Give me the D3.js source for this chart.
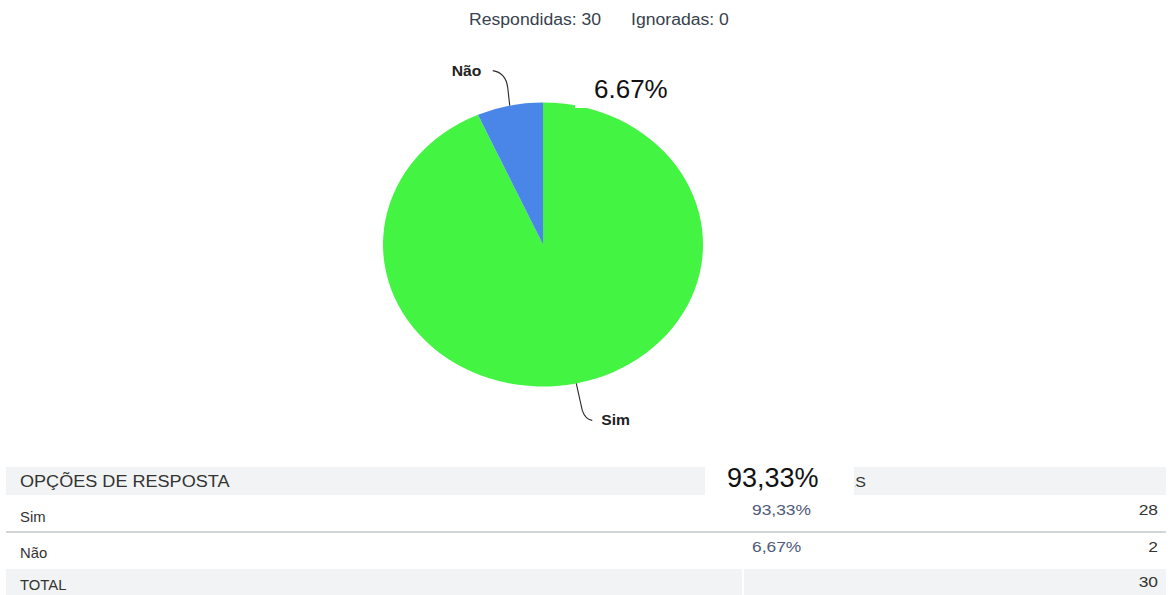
<!DOCTYPE html>
<html>
<head>
<meta charset="utf-8">
<script src="https://cdn.jsdelivr.net/npm/d3@7/dist/d3.min.js"></script>
<style>
  html, body { margin: 0; padding: 0; background: #ffffff; }
  svg { display: block; font-family: "Liberation Sans", Arial, sans-serif; }
</style>
</head>
<body>
<svg id="chart" width="1170" height="595"></svg>
<script>
// Survey question results: answer options and respondent counts
const categories = ["Sim", "Não"];
const counts = [28, 2];
const percentLabels = ["93,33%", "6,67%"];
const sliceColors = ["#43f443", "#4a86e8"];

// Response summary
const answered = 30;
const skipped = 0;

// Large callout labels overlaid on the chart
const calloutLabels = ["93,33%", "6.67%"];

// Table header and totals row
const headerLabels = ["OPÇÕES DE RESPOSTA", "RESPOSTAS"];
const totalLabel = "TOTAL";

const svg = d3.select("#chart");
const textStretch = 1.13;

// Helper: text drawn with a slight horizontal stretch
function addText(parent, x, y, str, opts) {
  const o = Object.assign({ size: 14, weight: "normal", fill: "#333", anchor: "start", sx: textStretch }, opts || {});
  const g = parent.append("g").attr("transform", `translate(${x},${y}) scale(${o.sx},1)`);
  g.append("text")
    .attr("x", 0).attr("y", 0)
    .attr("text-anchor", o.anchor)
    .attr("font-size", o.size)
    .attr("font-weight", o.weight)
    .attr("fill", o.fill)
    .text(str);
  return g;
}

// ---- Summary line ----
addText(svg, 469, 25, `Respondidas: ${answered}`, { size: 15.6, fill: "#37424e" });
addText(svg, 631, 25, `Ignoradas: ${skipped}`, { size: 15.6, fill: "#37424e" });

// ---- Pie (drawn slightly wider than tall) ----
const cx = 543, cy = 244.5, ry = 142, rx = 160;
const pie = d3.pie().sort(null).value(d => d.value);
const pieData = pie(categories.map((c, i) => ({ name: c, value: counts[i], color: sliceColors[i] })));
const arc = d3.arc().innerRadius(0).outerRadius(ry);

const pieG = svg.append("g").attr("transform", `translate(${cx},${cy}) scale(${rx / ry},1)`);
pieG.selectAll("path.slice")
  .data(pieData)
  .join("path")
  .attr("class", "slice")
  .attr("d", arc)
  .attr("fill", d => d.data.color);

// ---- Leader lines and slice labels ----
function outerPoint(d) {
  const a = (d.startAngle + d.endAngle) / 2;
  return [cx + rx * Math.sin(a), cy - ry * Math.cos(a)];
}
const leader = svg.append("g").attr("fill", "none").attr("stroke", "#2a2a2a").attr("stroke-width", 1.1);

pieData.forEach(d => {
  const [px, py] = outerPoint(d);
  const p = d3.path();
  if (py < cy) {
    // label above-left of the slice
    p.moveTo(px, py);
    p.lineTo(px - 2, py - 18);
    p.quadraticCurveTo(px - 4, py - 33, px - 17, py - 35);
    leader.append("path").attr("d", p.toString());
    addText(svg, px - 58, py - 30, d.data.name, { size: 14, weight: "bold", fill: "#222", sx: 1.12 });
  } else {
    // label below-right of the slice
    p.moveTo(px, py);
    p.lineTo(px + 6, py + 27);
    p.quadraticCurveTo(px + 9, py + 36, px + 16, py + 37);
    leader.append("path").attr("d", p.toString());
    addText(svg, px + 25, py + 42, d.data.name, { size: 14, weight: "bold", fill: "#222", sx: 1.12 });
  }
});

// ---- Table ----
const tableX0 = 6, tableX1 = 1166;
const colPct = 752, colCount = 1158, colDivider = 742;
const rowY = { header: [467, 495], total: [569, 595] };

svg.append("rect").attr("x", tableX0).attr("y", rowY.header[0])
  .attr("width", tableX1 - tableX0).attr("height", rowY.header[1] - rowY.header[0])
  .attr("fill", "#f1f3f4");
svg.append("rect").attr("x", tableX0).attr("y", rowY.total[0])
  .attr("width", tableX1 - tableX0).attr("height", rowY.total[1] - rowY.total[0])
  .attr("fill", "#f1f3f4");
svg.append("rect").attr("x", colDivider).attr("y", rowY.total[0])
  .attr("width", 2).attr("height", rowY.total[1] - rowY.total[0])
  .attr("fill", "#ffffff");
svg.append("line").attr("x1", tableX0).attr("x2", tableX1)
  .attr("y1", 532).attr("y2", 532)
  .attr("stroke", "#d3d6d8").attr("stroke-width", 2);

addText(svg, 20, 487, headerLabels[0], { size: 16, fill: "#333" });

// Answers header: only the part right of the callout box is visible
svg.append("defs").append("clipPath").attr("id", "hdrClip")
  .append("rect").attr("x", 855).attr("y", 460).attr("width", 300).attr("height", 40);
addText(svg.append("g").attr("clip-path", "url(#hdrClip)"), 866, 487, headerLabels[1],
  { size: 14.5, fill: "#333", anchor: "end", sx: 1.1 });

const labelBaselines = [522, 558];
const valueBaselines = [515, 552];
categories.forEach((c, i) => {
  addText(svg, 20, labelBaselines[i], c, { size: 14, fill: "#333", sx: 1.06 });
  addText(svg, colPct, valueBaselines[i], percentLabels[i], { size: 14.5, fill: "#4f5a78", sx: 1.2 });
  addText(svg, colCount, valueBaselines[i], String(counts[i]), { size: 14.5, fill: "#333", anchor: "end", sx: 1.2 });
});
addText(svg, 20, 590, totalLabel, { size: 14, fill: "#333", sx: 1.06 });
addText(svg, colCount, 587, String(d3.sum(counts)), { size: 14.5, fill: "#333", anchor: "end", sx: 1.2 });

// ---- Large callouts on white boxes ----
svg.append("rect").attr("x", 575).attr("y", 70).attr("width", 125).attr("height", 38).attr("fill", "#ffffff");
addText(svg, 594, 98, calloutLabels[1], { size: 26, fill: "#111", sx: 1.0 });

svg.append("rect").attr("x", 705).attr("y", 455).attr("width", 149).attr("height", 40).attr("fill", "#ffffff");
addText(svg, 727, 487, calloutLabels[0], { size: 27, fill: "#111", sx: 1.0 });
</script>
</body>
</html>
